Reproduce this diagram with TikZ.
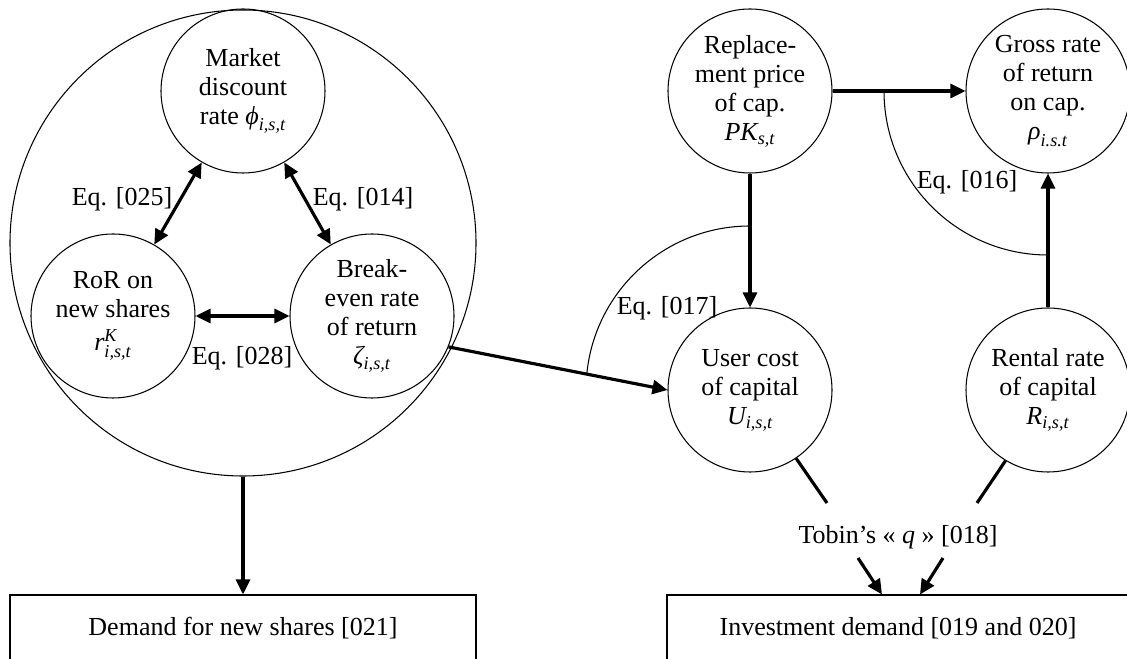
\documentclass[tikz,border=0pt]{standalone}
\usepackage{amsmath}
\usepackage{fontspec}
\setmainfont{Liberation Serif}
\usepackage{tikz}
\usetikzlibrary{arrows.meta,positioning}
\newcommand{\vsub}[2]{$\textit{#1}_{\textit{#2}}$}
\tikzset{
  every node/.append style={font=\fontsize{14.8pt}{16.5pt}\selectfont},
  bubble/.style={draw,circle,line width=0.6pt,minimum size=3.28cm,inner sep=0pt,align=center},
  bigbubble/.style={draw,circle,line width=0.6pt,minimum size=9.32cm,inner sep=0pt},
  outbox/.style={draw,rectangle,line width=0.6pt,minimum height=1.32cm,inner sep=0pt},
  arr/.style={line width=1.8pt,-{Triangle[length=0.3cm,width=0.28cm]}},
  dblarr/.style={line width=1.8pt,{Triangle[length=0.3cm,width=0.28cm]}-{Triangle[length=0.3cm,width=0.28cm]}},
  thinline/.style={line width=0.6pt},
  thickline/.style={line width=1.8pt}
}

\begin{document}
\begin{tikzpicture}
      \useasboundingbox (0,0) rectangle (22.54,13.16);

      \node[bigbubble] at (4.86,8.30) (shares) {};
      \node[bubble] at (4.86,11.34) (market) {Market\\discount\\rate \vsub{ϕ}{i,s,t}};
      \node[bubble] at (2.26,6.84) (ror) {RoR on\\new shares\\[2pt]$\textit{r}^{\textit{K}}_{\textit{i,s,t}}$};
      \node[bubble] at (7.44,6.84) (breakeven) {Break-\\even rate\\of return\\\vsub{ζ}{i,s,t}};

      \node at (2.44,9.18) (eq025) {Eq. [025]};
      \node at (7.26,9.18) (eq014) {Eq. [014]};
      \node at (4.84,6.00) (eq028) {Eq. [028]};

      \node[bubble] at (15.00,11.34) (replace) {Replace-\\ment price\\of cap.\\\vsub{PK}{s,t}};
      \node[bubble] at (20.96,11.34) (gross) {Gross rate\\of return\\on cap.\\\vsub{ρ}{i.s.t}};
      \node[bubble] at (15.00,5.36) (usercost) {User cost\\of capital\\\vsub{U}{i,s,t}};
      \node[bubble] at (20.96,5.36) (rental) {Rental rate\\of capital\\\vsub{R}{i,s,t}};

      \node at (13.34,7.00) (eq017) {Eq. [017]};
      \node at (19.34,9.52) (eq016) {Eq. [016]};
      \node at (17.96,2.42) (tobin) {Tobin's « \textit{q} » [018]};

      \node[outbox,minimum width=9.32cm] at (4.86,0.60) (demand) {Demand for new shares [021]};
      \node[outbox,minimum width=9.24cm] at (17.96,0.60) (invest) {Investment demand [019 and 020]};

      \coordinate (qleft) at (16.54,3.10);
      \coordinate (qright) at (19.54,3.10);
      \coordinate (qa) at (17.16,2.00);
      \coordinate (qb) at (18.86,2.00);

      \draw[dblarr] (market.240) -- (ror.60);
      \draw[dblarr] (market.300) -- (breakeven.120);
      \draw[dblarr] (ror.east) -- (breakeven.west);
      \draw[arr] (shares.south) -- (demand.north);

      \draw[arr] (breakeven.-22) -- (usercost.west);
      \draw[arr] (replace.east) -- (gross.west);
      \draw[arr] (replace.south) -- (usercost.north);
      \draw[arr] (rental.north) -- (gross.south);
      \draw[thinline] (usercost.center) ++(90:3.28) arc (90:174:3.28);
      \draw[thinline] (gross.center) ++(180:3.28) arc (180:270:3.28);

      \draw[thickline] (usercost.-56) -- (qleft);
      \draw[thickline] (rental.239) -- (qright);
      \draw[arr] (qa) -- ([xshift=-0.32cm]invest.north);
      \draw[arr] (qb) -- ([xshift=0.44cm]invest.north);
    \end{tikzpicture}
\end{document}
